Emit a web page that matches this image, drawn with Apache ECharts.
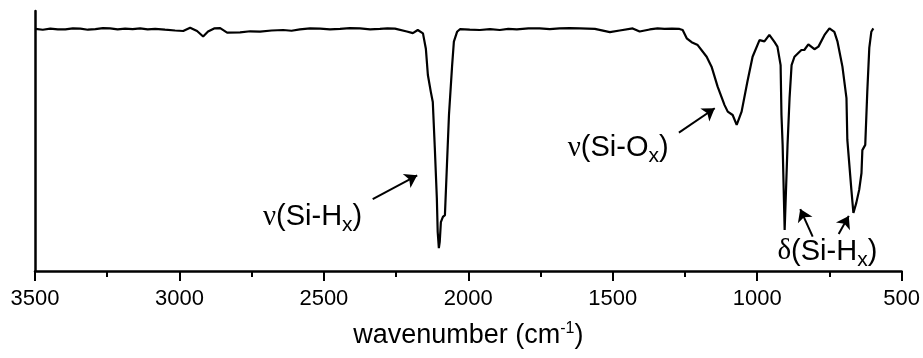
<!DOCTYPE html>
<html>
<head>
<meta charset="utf-8">
<script src="https://cdn.jsdelivr.net/npm/echarts@6/dist/echarts.min.js"></script>
<style>
  html, body { margin: 0; padding: 0; background: #fff; }
  #chart { width: 923px; height: 358px; }
</style>
</head>
<body>
<div id="chart"></div>
<script>
// IR spectrum
const wavenumber = [
  3499, 3473, 3447, 3421, 3395, 3369, 3343, 3317, 3291, 3265,
  3240, 3214, 3188, 3162, 3136, 3110, 3084, 3050,
  3015, 2987, 2963, 2939, 2918, 2901, 2880, 2859, 2835, 2790,
  2755, 2721, 2681, 2641, 2612, 2583, 2548, 2513, 2479, 2444, 2410, 2375, 2340, 2306, 2280, 2254, 2213, 2192,
  2175, 2157, 2147, 2140, 2130, 2123, 2116, 2109, 2106, 2102,
  2099, 2095, 2088, 2081, 2074, 2067, 2056, 2050, 2039, 2029,
  1995, 1960, 1925, 1891, 1862, 1832, 1792, 1753, 1718, 1684, 1649, 1614, 1562, 1510, 1476, 1431,
  1407, 1372, 1345, 1321, 1295, 1269, 1258, 1244, 1227, 1206, 1175, 1158,
  1137, 1113, 1102, 1085, 1071, 1054, 1034, 1016, 992, 975,
  958, 941, 930, 919, 916, 912, 905, 895, 888, 881,
  871, 847, 837, 823, 802, 788, 767, 750, 733, 722,
  705, 691, 688, 674, 667, 657, 647, 639, 636, 626,
  619, 612, 605, 598
];
const transmittance = [
  93.1, 92.8, 93.2, 92.9, 92.9, 93.3, 93.2, 92.8, 93.0, 93.4,
  93.3, 92.9, 93.2, 93.0, 93.3, 92.9, 93.1, 92.8,
  92.5, 92.3, 93.6, 92.3, 90.2, 92.1, 93.3, 93.4, 91.7, 91.8,
  92.2, 92.1, 92.5, 92.7, 92.4, 92.9, 93.3, 93.2, 92.9, 93.1, 93.4, 93.3, 92.9, 93.1, 93.3, 93.2, 92.1, 91.5,
  92.7, 91.4, 85.5, 75.4, 69.0, 65.0, 47.3, 28.1, 15.0, 8.8,
  11.2, 18.8, 20.8, 21.5, 40.8, 60.0, 79.2, 88.2, 92.0, 93.0,
  92.8, 92.7, 93.0, 92.7, 93.1, 92.9, 93.3, 93.3, 93.0, 93.3, 93.4, 93.3, 93.1, 91.9, 92.5, 93.3,
  92.1, 92.9, 93.3, 93.1, 93.2, 93.1, 92.7, 89.5, 88.0, 86.9, 82.4, 78.6,
  70.9, 63.8, 61.3, 60.0, 56.2, 61.3, 72.8, 82.4, 88.8, 88.3,
  90.8, 88.2, 86.3, 79.2, 60.0, 48.5, 15.8, 48.5, 66.5, 79.2,
  82.4, 85.0, 85.0, 87.2, 85.3, 86.3, 90.8, 93.3, 92.0, 88.2,
  78.6, 66.5, 50.4, 31.2, 22.3, 26.2, 31.2, 37.7, 46.5, 48.5,
  68.8, 85.8, 92.0, 93.3
];

// annotations: text, left edge and baseline in data units
const annoTexts = [
  '{g|\u03bd}{m|(Si-H}{s|x}{m|)}',
  '{g|\u03bd}{m|(Si-O}{s|x}{m|)}',
  '{g|\u03b4}{m|(Si-H}{s|x}{m|)}'
];
const annoX = [2711, 1656, 930];
const annoY = [16.9, 43.5, 3.6];

// arrows: [from, to] in data units
const arrows = [
  [[2331, 27.6], [2177, 36.8]],
  [[1271, 53.2], [1147, 62.6]],
  [[808, 13.2], [851, 23.8]],
  [[718, 14.2], [683, 21.2]]
];

const chart = echarts.init(document.getElementById('chart'));
const font = 'Liberation Sans, Arial, sans-serif';

const option = {
  animation: false,
  backgroundColor: '#fff',
  grid: { left: 35, right: 21, top: 11, bottom: 87 },
  xAxis: {
    type: 'value',
    min: 500,
    max: 3500,
    interval: 500,
    inverse: true,
    name: '{m|wavenumber (cm}{p|-1}{m|)}',
    nameLocation: 'middle',
    nameGap: 50,
    nameTextStyle: {
      rich: {
        m: { fontFamily: font, fontSize: 27, lineHeight: 30, color: '#000' },
        p: { fontFamily: font, fontSize: 16, lineHeight: 14, verticalAlign: 'top', color: '#000' }
      }
    },
    axisLine: { onZero: false, lineStyle: { color: '#000', width: 2.5 } },
    axisTick: { length: 10, lineStyle: { color: '#000', width: 2 } },
    minorTick: { show: true, splitNumber: 2, length: 6, lineStyle: { color: '#000', width: 2 } },
    axisLabel: { color: '#000', fontFamily: font, fontSize: 22, margin: 17, formatter: v => String(v) },
    splitLine: { show: false }
  },
  yAxis: {
    type: 'value',
    min: 0,
    max: 100,
    axisLine: { show: true, lineStyle: { color: '#000', width: 2.5 } },
    axisTick: { show: false },
    axisLabel: { show: false },
    splitLine: { show: false }
  },
  series: [{
    type: 'line',
    data: wavenumber.map((w, i) => [w, transmittance[i]]),
    showSymbol: false,
    lineStyle: { color: '#000', width: 2.2 },
    silent: true,
    markLine: {
      silent: true,
      symbol: ['none', 'arrow'],
      symbolSize: 12,
      label: { show: false },
      lineStyle: { color: '#000', width: 2, type: 'solid' },
      data: arrows.map(a => [{ coord: a[0] }, { coord: a[1] }])
    }
  }]
};
chart.setOption(option);

const annoRich = {
  g: { fontFamily: 'Liberation Serif, Times New Roman, serif', fontSize: 29, lineHeight: 38 },
  m: { fontFamily: font, fontSize: 29, lineHeight: 38 },
  s: { fontFamily: font, fontSize: 21, lineHeight: 21, verticalAlign: 'bottom' }
};

chart.setOption({
  graphic: annoTexts.map((t, i) => {
    const p = chart.convertToPixel({ gridIndex: 0 }, [annoX[i], annoY[i]]);
    return {
      type: 'text',
      x: p[0],
      y: p[1] - 29,
      silent: true,
      style: { text: t, rich: annoRich, fill: '#000', align: 'left', verticalAlign: 'top' }
    };
  })
});
</script>
</body>
</html>
